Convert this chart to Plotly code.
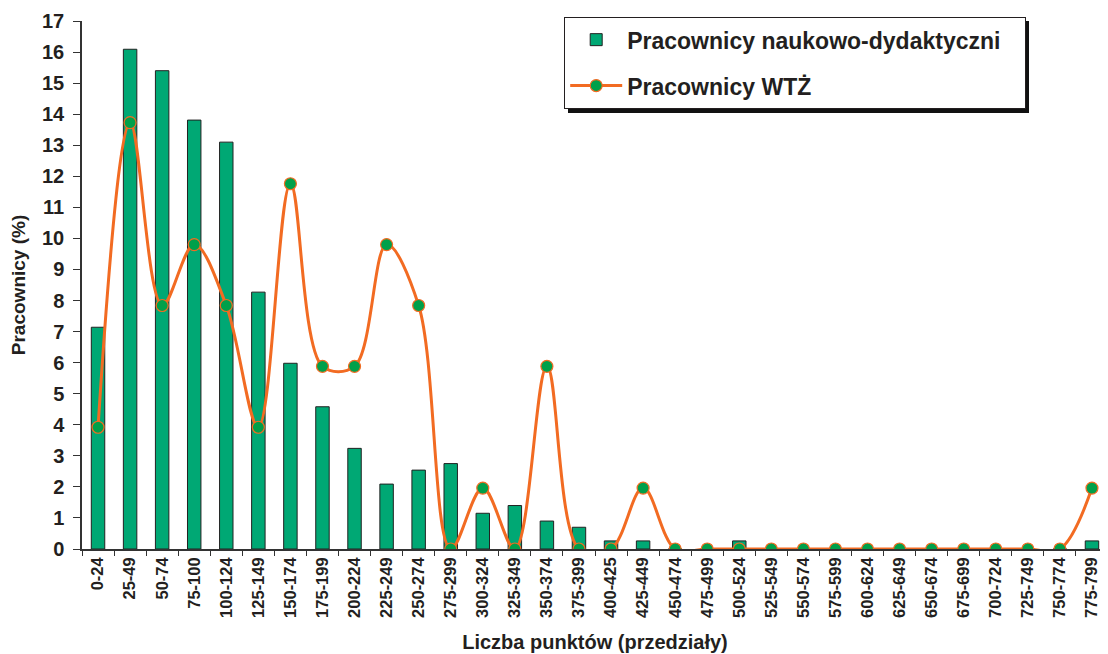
import plotly.graph_objects as go

# Point ranges (x categories)
categories = [
    "0-24", "25-49", "50-74", "75-100", "100-124", "125-149", "150-174",
    "175-199", "200-224", "225-249", "250-274", "275-299", "300-324",
    "325-349", "350-374", "375-399", "400-425", "425-449", "450-474",
    "475-499", "500-524", "525-549", "550-574", "575-599", "600-624",
    "625-649", "650-674", "675-699", "700-724", "725-749", "750-774",
    "775-799",
]

# Pracownicy naukowo-dydaktyczni (%)
academic_pct = [
    7.14, 16.09, 15.40, 13.81, 13.10, 8.27, 5.98, 4.58, 3.24, 2.09, 2.54,
    2.75, 1.15, 1.40, 0.90, 0.70, 0.26, 0.26, 0.0, 0.0, 0.26, 0.0, 0.0,
    0.0, 0.0, 0.0, 0.0, 0.0, 0.0, 0.0, 0.0, 0.26,
]

# Pracownicy WTŻ (%)
wtz_pct = [
    3.92, 13.73, 7.84, 9.80, 7.84, 3.92, 11.76, 5.88, 5.88, 9.80, 7.84,
    0.0, 1.96, 0.0, 5.88, 0.0, 0.0, 1.96, 0.0, 0.0, 0.0, 0.0, 0.0, 0.0,
    0.0, 0.0, 0.0, 0.0, 0.0, 0.0, 0.0, 1.96,
]

y_ticks = list(range(0, 18))

FONT = "Arial, Liberation Sans, sans-serif"
TEXT_COLOR = "#231f20"
BAR_GREEN = "#00a874"
DOT_GREEN = "#00a04a"
ORANGE = "#f26b22"

# the page body has an 8px default margin, so shrink the figure to fit
BODY_PAD = 8
PAGE_W, PAGE_H = 1108, 654
FIG_W, FIG_H = PAGE_W - BODY_PAD, PAGE_H - BODY_PAD

# plot area in page px (used for legend / shadow placement)
PLOT_L, PLOT_R, PLOT_T, PLOT_B = 82, 1108, 21, 549


def px_x(p):
    return (p - PLOT_L) / (PLOT_R - PLOT_L)


def px_y(p):
    return (PLOT_B - p) / (PLOT_B - PLOT_T)


fig = go.Figure()

fig.add_trace(
    go.Bar(
        x=categories,
        y=academic_pct,
        # trailing nbsp widens the legend box a bit
        name="Pracownicy naukowo-dydaktyczni\u00a0\u00a0\u00a0",
        marker=dict(color=BAR_GREEN, line=dict(color="#222222", width=1)),
        width=0.42,
        legendgroup="a",
    )
)

fig.add_trace(
    go.Scatter(
        x=categories,
        y=wtz_pct,
        name="Pracownicy WTŻ",
        mode="lines+markers",
        line=dict(color=ORANGE, width=3, shape="spline", smoothing=1),
        marker=dict(color=DOT_GREEN, size=12, line=dict(color=ORANGE, width=1.2)),
        legendgroup="b",
    )
)

# legend drop shadow
fig.add_shape(
    type="rect",
    xref="paper",
    yref="paper",
    x0=px_x(568),
    x1=px_x(1029),
    y0=px_y(113),
    y1=px_y(21),
    fillcolor="#111111",
    line=dict(width=0),
    layer="above",
)

fig.update_layout(
    width=FIG_W,
    height=FIG_H,
    plot_bgcolor="white",
    paper_bgcolor="white",
    margin=dict(
        l=PLOT_L - BODY_PAD,
        r=PAGE_W - PLOT_R,
        t=PLOT_T - BODY_PAD,
        b=PAGE_H - PLOT_B,
    ),
    font=dict(family=FONT, color=TEXT_COLOR),
    showlegend=True,
    legend=dict(
        x=px_x(564),
        y=px_y(17),
        xanchor="left",
        yanchor="top",
        bgcolor="white",
        bordercolor="#231f20",
        borderwidth=1.2,
        font=dict(size=23, weight="bold", family=FONT, color=TEXT_COLOR),
        tracegroupgap=13,
        itemwidth=52,
    ),
    xaxis=dict(
        type="category",
        automargin=False,
        showline=True,
        linecolor="#333333",
        linewidth=1.5,
        ticks="outside",
        ticklen=5,
        tickcolor="#333333",
        tickson="boundaries",
        tickangle=-90,
        tickfont=dict(size=16.5, weight="bold", family=FONT, color=TEXT_COLOR),
        showgrid=False,
        title=dict(
            text="Liczba punktów (przedziały)",
            font=dict(size=20, weight="bold", family=FONT, color=TEXT_COLOR),
            standoff=18,
        ),
        range=[-0.5, 31.5],
    ),
    yaxis=dict(
        range=[0, 17],
        automargin=False,
        tickvals=y_ticks,
        showline=True,
        linecolor="#333333",
        linewidth=1.5,
        ticks="outside",
        ticklen=7,
        tickcolor="#333333",
        ticklabelstandoff=5,
        tickfont=dict(size=20, weight="bold", family=FONT, color=TEXT_COLOR),
        showgrid=False,
        zeroline=False,
        title=dict(
            text="Pracownicy (%)",
            font=dict(size=19, weight="bold", family=FONT, color=TEXT_COLOR),
            standoff=15,
        ),
    ),
)

fig.write_html("out.html")
